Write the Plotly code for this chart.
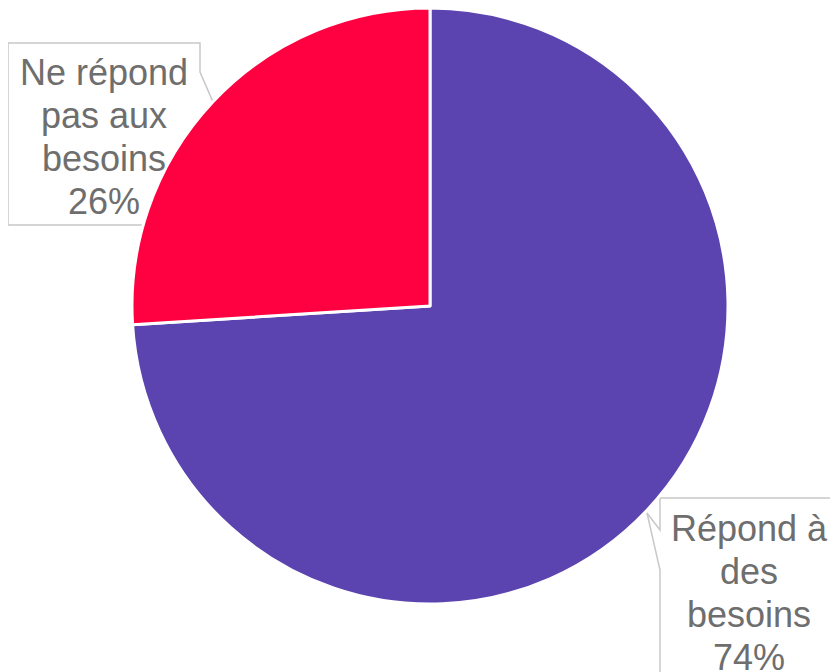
import plotly.graph_objects as go

# Data
labels = ["Répond à des besoins", "Ne répond pas aux besoins"]
label_lines = [["Répond à", "des", "besoins"], ["Ne répond", "pas aux", "besoins"]]
values = [74, 26]
colors = ["#5B43B0", "#FF0040"]

W, H = 838, 672
OFF = 8  # page body margin shifts the plot


def px(x):
    return (x - OFF) / W


def py(y):
    return 1 - (y - OFF) / H


fig = go.Figure(go.Pie(
    labels=labels,
    values=values,
    sort=False,
    direction="clockwise",
    rotation=0,
    marker=dict(colors=colors, line=dict(color="white", width=3)),
    textinfo="none",
    hoverinfo="label+percent",
    showlegend=False,
    domain=dict(x=[px(132), px(728)], y=[py(604), py(8)]),
))

# callout boxes (drawn below the pie)
def path(points):
    return "M " + " L ".join(f"{px(x):.5f},{py(y):.5f}" for x, y in points) + " Z"

box_style = dict(type="path", xref="paper", yref="paper", layer="below",
                 fillcolor="white", line=dict(color="#C8C8C8", width=1.5))
shapes = [
    dict(path=path([(8, 43), (200, 43), (200, 72), (213, 102), (200, 118),
                    (200, 225), (8, 225)]), **box_style),
    dict(path=path([(660, 498), (850, 498), (850, 690), (660, 690),
                    (660, 570), (647, 513), (660, 530)]), **box_style),
]

# label text, one annotation per line to get the tight line spacing
total = sum(values)
font = dict(family="Liberation Sans, Arial, sans-serif", size=36, color="#6E6E6E")
anchors = [(749, 528), (104, 72)]  # centre of first line for each label
spacing = 43
annotations = []
for i, lines in enumerate(label_lines):
    pct = f"{round(values[i] / total * 100)}%"
    cx, cy = anchors[i]
    for j, line in enumerate(lines + [pct]):
        annotations.append(dict(
            text=line, x=px(cx), y=py(cy + j * spacing),
            xref="paper", yref="paper", showarrow=False,
            xanchor="center", yanchor="middle", font=font))

fig.update_layout(
    width=W, height=H,
    margin=dict(l=0, r=0, t=0, b=0),
    paper_bgcolor="white",
    plot_bgcolor="white",
    shapes=shapes,
    annotations=annotations,
)

fig.write_html("out.html")
